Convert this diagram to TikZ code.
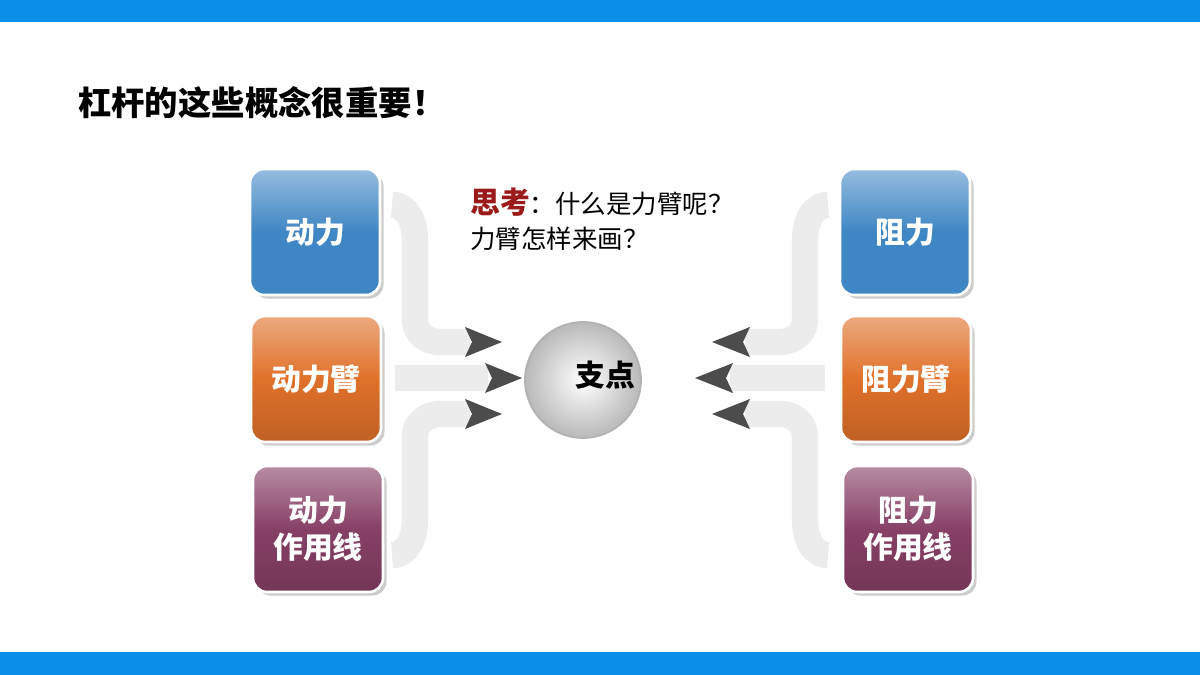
\documentclass[tikz,border=0pt]{standalone}
\usepackage{fontspec}
\setmainfont{Noto Sans CJK SC}
\usetikzlibrary{shadows,arrows.meta}
\definecolor{topblue}{HTML}{0A8FE8}
\definecolor{bblue}{HTML}{3F86C4}
\definecolor{borange}{HTML}{E0712A}
\definecolor{bpurple}{HTML}{874066}
\definecolor{thinkred}{HTML}{9B1B1B}
\tikzset{
  box/.style={rounded corners=8pt, minimum width=130*0.02cm, minimum height=126*0.02cm,
    text=white, font=\fontsize{17}{21}\selectfont\bfseries, align=center,
    draw=white, line width=1.5pt, drop shadow={shadow xshift=2pt,shadow yshift=-2pt,opacity=0.4}},
  bluebox/.style={box, top color=bblue!55!white, bottom color=bblue, middle color=bblue},
  orangebox/.style={box, top color=borange!60!white, bottom color=borange!85!black, middle color=borange},
  purplebox/.style={box, top color=bpurple!60!white, bottom color=bpurple!85!black, middle color=bpurple},
  shaft/.style={line width=15pt, draw=gray!15, line join=round},
  head/.style={fill=black!70, draw=none},
}
\begin{document}
\begin{tikzpicture}[x=0.02cm,y=-0.02cm]
\useasboundingbox (0,0) rectangle (1200,675);
\fill[white] (0,0) rectangle (1200,675);
\fill[topblue] (0,0) rectangle (1200,22);
\fill[topblue] (0,652) rectangle (1200,675);
\node[anchor=west, font=\fontsize{19}{23}\selectfont\bfseries] (title) at (72,103) {杠杆的这些概念很重要！};
% arrows left
\draw[shaft] (392,205) to[out=0,in=90] (415,240) -- (415,320) to[out=-90,in=180] (440,342) -- (470,342);
\draw[shaft] (395,378) -- (488,378);
\draw[shaft] (392,555) to[out=0,in=-90] (415,520) -- (415,436) to[out=90,in=180] (440,414) -- (470,414);
\fill[head] (465,327) -- (502,342) -- (465,357) -- (472,342) -- cycle;
\fill[head] (485,363) -- (522,378) -- (485,393) -- (492,378) -- cycle;
\fill[head] (465,399) -- (502,414) -- (465,429) -- (472,414) -- cycle;
% arrows right
\draw[shaft] (828,205) to[out=180,in=90] (805,240) -- (805,320) to[out=-90,in=0] (780,342) -- (745,342);
\draw[shaft] (825,378) -- (730,378);
\draw[shaft] (828,555) to[out=180,in=-90] (805,520) -- (805,436) to[out=90,in=0] (780,414) -- (745,414);
\fill[head] (750,327) -- (712,342) -- (750,357) -- (743,342) -- cycle;
\fill[head] (733,363) -- (695,378) -- (733,393) -- (726,378) -- cycle;
\fill[head] (750,399) -- (712,414) -- (750,429) -- (743,414) -- cycle;
% boxes
\node[bluebox] (dl) at (315,232) {动力};
\node[orangebox] (dlb) at (316,379) {动力臂};
\node[purplebox] (dlx) at (318,529) {动力\\作用线};
\node[bluebox] (zl) at (905,232) {阻力};
\node[orangebox] (zlb) at (906,379) {阻力臂};
\node[purplebox] (zlx) at (908,529) {阻力\\作用线};
% circle
\shade[inner color=white, outer color=gray!55, draw=gray!60, line width=1pt] (583,380) circle (58);
\node[font=\fontsize{17}{20}\selectfont\bfseries] (fulcrum) at (605,375) {支点};
% think
\node[anchor=west, font=\fontsize{14.5}{20}\selectfont, align=left] (think) at (464,219)
  {{\color{thinkred}\bfseries\fontsize{17}{20}\selectfont 思考}：什么是力臂呢？\\力臂怎样来画？};
\end{tikzpicture}
\end{document}
